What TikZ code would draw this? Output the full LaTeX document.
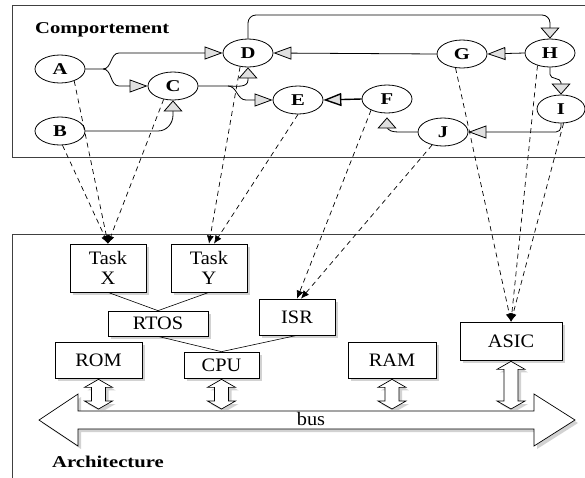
\documentclass[tikz,border=0pt]{standalone}
\usepackage{fontspec}
\setmainfont{Liberation Serif}[FakeStretch=1.07]
\newfontfamily\hdfont{Liberation Serif}[FakeStretch=1.25]
\usetikzlibrary{arrows.meta,shapes.geometric,shadows,calc}
\newcommand\busarrow[1]{%
  \draw[dbl] let \p1=(#1.south), \p2=(busline) in
    (\x1,\y1-1pt) -- (\x1+14pt,\y1-9pt) -- (\x1+7pt,\y1-9pt) -- (\x1+7pt,\y2+8pt)
    -- (\x1+14pt,\y2+8pt) -- (\x1,\y2) -- (\x1-14pt,\y2+8pt) -- (\x1-7pt,\y2+8pt)
    -- (\x1-7pt,\y1-9pt) -- (\x1-14pt,\y1-9pt) -- cycle;}
\begin{document}
\begin{tikzpicture}[x=1pt,y=-1pt,
  every node/.style={inner sep=0pt, font=\fontsize{19}{20}\selectfont},
  frame/.style={draw=black!75, line width=0.8pt},
  st/.style={draw, ellipse, line width=0.8pt, minimum width=50pt, minimum height=28pt, fill=white,
    font=\hdfont\bfseries\fontsize{16.5}{17}\selectfont},
  shad/.style={drop shadow={shadow xshift=3pt, shadow yshift=-3pt, fill=black!35}},
  box/.style={draw, fill=white, line width=0.7pt, shad, align=center},
  flow/.style={draw, line width=0.8pt},
  harr/.style={-{Triangle[length=18pt,width=13pt,fill=black!12]}},
  varr/.style={-{Triangle[length=11pt,width=19pt,fill=black!12]}},
  map/.style={draw, line width=0.7pt, dash pattern=on 5pt off 4pt, -{Latex[length=8pt,width=7pt]}},
  link/.style={draw, line width=0.6pt},
  dbl/.style={draw, fill=white, line width=0.7pt, shad},
  title/.style={font=\hdfont\bfseries\fontsize{16.5}{17}\selectfont, anchor=base west}
]
\clip (0,0) rectangle (585,477);
\fill[white] (0,0) rectangle (585,477);
% frames
\draw[frame] (12,5) rectangle (620,157);
\draw[frame] (12,234) rectangle (620,520);
\node[title] (comp) at (35,33) {Comportement};
\node[title] (arch) at (52,467) {Architecture};
% behaviour nodes
\node[st] (A) at (60,69) {A};
\node[st] (B) at (60,131) {B};
\node[st] (C) at (173,86) {C};
\node[st] (D) at (248,53) {D};
\node[st] (E) at (298,100) {E};
\node[st] (F) at (387,99) {F};
\node[st] (G) at (462,54) {G};
\node[st] (H) at (550,53) {H};
\node[st, minimum width=48pt] (I) at (561,109) {I};
\node[st] (J) at (443,132) {J};
% behaviour edges
\draw[flow,harr] (A.east) -- (103,69) to[out=0,in=180] (119,53) -- (D.west);
\draw[flow,harr] (103,69) to[out=0,in=180] (119,86) -- (C.west);
\draw[flow,varr] (B.east) -- (158,131) to[out=0,in=-90] (173,115) -- (C.south);
\draw[flow,varr] (C.east) -- (228,86) to[out=0,in=-90] (248,80) -- (D.south);
\draw[flow,harr] (228,86) to[out=0,in=180] (246,100) -- (E.west);
\draw[flow,harr] (G.west) -- (D.east);
\draw[flow,harr] (H.west) -- (G.east);
\draw[flow,varr,rounded corners=8pt] (D.north) -- (D.north |- 0,15) -- (H.north |- 0,15) -- (H.north);
\draw[flow,varr] (H.south) -- ++(0,7) to[out=-90,in=90] ($(I.north)+(0,-12)$) -- (I.north);
\draw[flow,harr,rounded corners=5pt] (I.south) |- (J.east);
\draw[flow,varr,shorten >=4pt] (J.west) -- (399,132) to[out=180,in=-90] (387,126) -- (F.south);
\draw[flow,harr,line width=1.4pt] (F.west) -- (E.east);
% architecture boxes
\node[box, minimum width=76pt, minimum height=48pt] (TX) at (108,268) {Task\\X};
\node[box, minimum width=76pt, minimum height=48pt] (TY) at (209,268) {Task\\Y};
\node[box, minimum width=100pt, minimum height=25pt] (RTOS) at (158,323.5) {RTOS};
\node[box, minimum width=76pt, minimum height=36pt] (ISR) at (297,317) {ISR};
\node[box, minimum width=87pt, minimum height=36pt] (ROM) at (98.5,360) {ROM};
\node[box, minimum width=75pt, minimum height=26pt] (CPU) at (221.5,365) {CPU};
\node[box, minimum width=88pt, minimum height=36pt] (RAM) at (392,360) {RAM};
\node[box, minimum width=102pt, minimum height=38pt] (ASIC) at (511,341) {ASIC};
\draw[link] (TX.south) -- (RTOS.north);
\draw[link] (TY.south) -- (RTOS.north);
\draw[link] (RTOS.south) -- (CPU.north);
\draw[link] (ISR.south) -- (CPU.north);
% bus
\draw[dbl] (39,420) -- (78,394) -- (78,411) -- (534,411) -- (534,394) -- (575,420)
  -- (534,446) -- (534,429) -- (78,429) -- (78,446) -- cycle;
\node (bus) at (311,419) {bus};
\coordinate (busline) at (0,409);
\busarrow{ROM}
\busarrow{CPU}
\busarrow{RAM}
\busarrow{ASIC}
% mapping
\draw[map] (A.-40) -- (TX.north);
\draw[map] (B.-80) -- (TX.north);
\draw[map] (C.-125) -- (TX.north);
\draw[map] (D.-120) -- (TY.north);
\draw[map] (E.south) -- ($(TY.north)+(5,0)$);
\draw[map] (F.-145) -- (ISR.north);
\draw[map] (J.-130) -- ($(ISR.north)+(4,0)$);
\draw[map] (G.-115) -- (ASIC.north);
\draw[map] (H.-135) -- (ASIC.north);
\draw[map] (I.-80) -- (ASIC.north);
\end{tikzpicture}
\end{document}
